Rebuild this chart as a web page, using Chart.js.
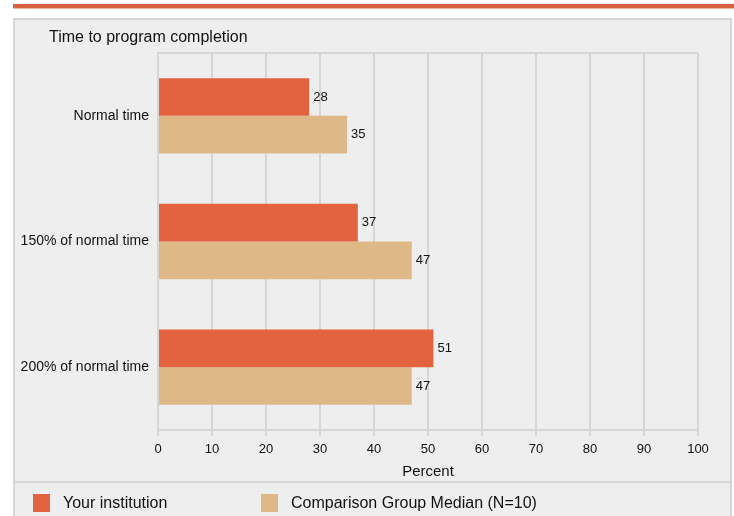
<!DOCTYPE html>
<html>
<head>
<meta charset="utf-8">
<script src="https://cdn.jsdelivr.net/npm/chart.js@4"></script>
<style>
  body { margin: 0; background: #fff; font-family: "Liberation Sans", Arial, sans-serif; color: #111; }
  #wrap { position: relative; width: 734px; height: 516px; overflow: hidden; }
  .topbar { position: absolute; left: 13px; top: 4px; width: 721px; height: 4px; background: #d9613f; border-bottom: 1px solid #f2b39f; }
  .panel { position: absolute; left: 13px; top: 18px; width: 715px; height: 461px; background: #eeeeee; border: 2px solid #d6d6d6; }
  .legendPanel { position: absolute; left: 13px; top: 483px; width: 715px; height: 40px; background: #eeeeee; border-left: 2px solid #d6d6d6; border-right: 2px solid #d6d6d6; }
  canvas { position: absolute; left: 0; top: 0; }
  .title { position: absolute; left: 49px; top: 28px; font-size: 16px; }
  .legend { position: absolute; top: 494px; font-size: 16px; line-height: 18px; }
  .legend span.sw { display: inline-block; width: 17px; height: 18px; vertical-align: top; margin-right: 13px; }
</style>
</head>
<body>
<div id="wrap">
  <div class="topbar"></div>
  <div class="panel"></div>
  <div class="legendPanel"></div>
  <canvas id="chart" width="734" height="516"></canvas>
  <div class="title">Time to program completion</div>
  <div class="legend" id="leg0" style="left:33px"></div>
  <div class="legend" id="leg1" style="left:261px"></div>
</div>
<script>
const categories = ['Normal time', '150% of normal time', '200% of normal time'];
const yourInstitution = [28, 37, 51];
const comparisonMedian = [35, 47, 47];
const seriesNames = ['Your institution', 'Comparison Group Median (N=10)'];
const seriesColors = ['#e3623f', '#deb887'];
const xTicks = [0, 10, 20, 30, 40, 50, 60, 70, 80, 90, 100];

const GRID = '#d6d6d6';
const FONT = '"Liberation Sans", Arial, sans-serif';

// legend as html
seriesNames.forEach((name, i) => {
    const el = document.getElementById('leg' + i);
    el.innerHTML = `<span class="sw" style="background:${seriesColors[i]}"></span>${name}`;
});

const valueLabels = {
    id: 'valueLabels',
    afterDatasetsDraw(chart) {
        const { ctx } = chart;
        ctx.save();
        ctx.font = `13px ${FONT}`;
        ctx.fillStyle = '#111';
        ctx.textBaseline = 'middle';
        ctx.textAlign = 'left';
        chart.data.datasets.forEach((ds, di) => {
            chart.getDatasetMeta(di).data.forEach((bar, i) => {
                ctx.fillText(ds.data[i], bar.x + 4, bar.y);
            });
        });
        ctx.restore();
    }
};

new Chart(document.getElementById('chart'), {
    type: 'bar',
    data: {
        labels: categories,
        datasets: [
            { label: seriesNames[0], data: yourInstitution, backgroundColor: seriesColors[0] },
            { label: seriesNames[1], data: comparisonMedian, backgroundColor: seriesColors[1] }
        ]
    },
    options: {
        indexAxis: 'y',
        responsive: false, animation: false, devicePixelRatio: 1,
        layout: { padding: { left: 0, top: 53, right: 36, bottom: 0 } },
        datasets: { bar: { categoryPercentage: 0.6, barPercentage: 1.0 } },
        plugins: { legend: { display: false }, tooltip: { enabled: false }, title: { display: false } },
        scales: {
            x: {
                min: 0, max: 100,
                afterBuildTicks: s => { s.ticks = xTicks.map(v => ({ value: v })); },
                afterFit: s => { s.height = 86; },
                grid: { color: GRID, lineWidth: 2, tickLength: 6 },
                border: { color: GRID, width: 2 },
                ticks: { color: '#111', font: { family: FONT, size: 13 }, padding: 6, maxRotation: 0 },
                title: { display: true, text: 'Percent', color: '#111', font: { family: FONT, size: 15 }, padding: { top: 4, bottom: 35 } }
            },
            y: {
                afterFit: s => { s.width = 158; },
                grid: {
                    drawTicks: false, lineWidth: 2,
                    color: ctx => (ctx.index === 0 || ctx.index === categories.length) ? GRID : 'rgba(0,0,0,0)'
                },
                border: { color: GRID, width: 2 },
                ticks: { color: '#111', font: { family: FONT, size: 14 }, padding: 9 }
            }
        }
    },
    plugins: [valueLabels]
});
</script>
</body>
</html>
